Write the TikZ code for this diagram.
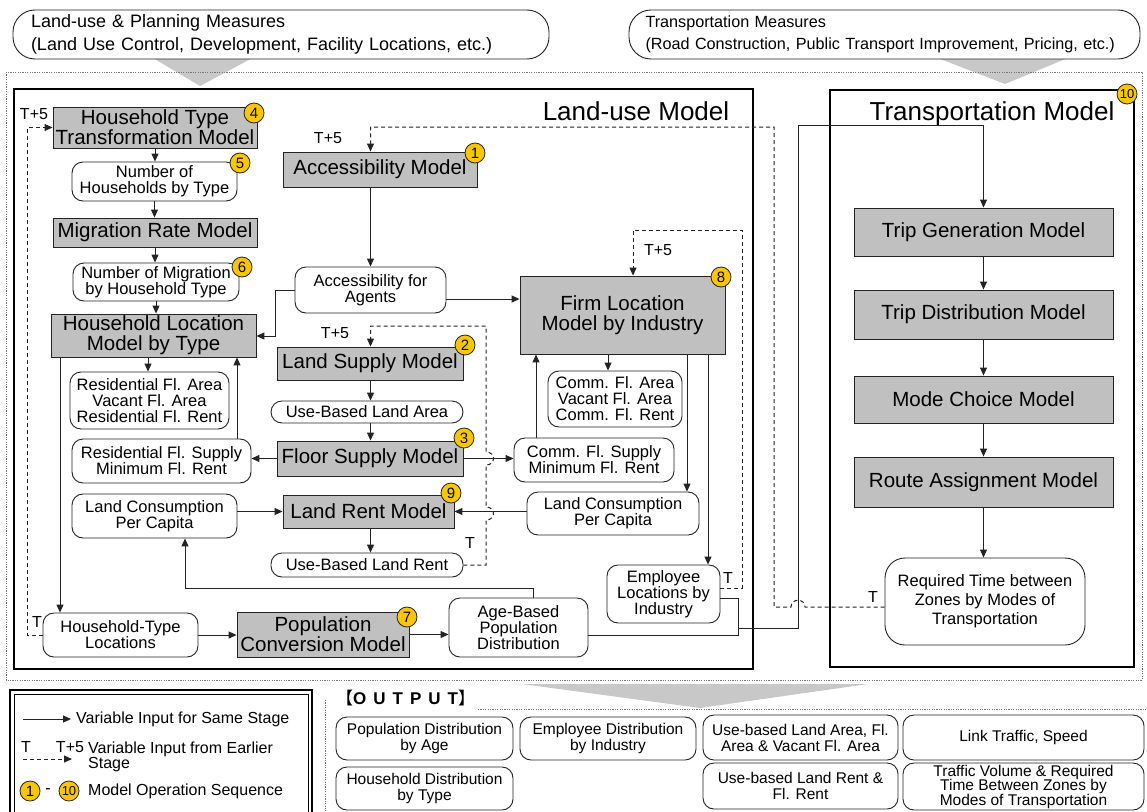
\documentclass[tikz,border=0pt]{standalone}
\usepackage{fontspec}
\setmainfont{Liberation Sans}
\newfontfamily\cjkfont{Noto Sans CJK SC}
\usetikzlibrary{arrows.meta}
\definecolor{boxgray}{RGB}{192,192,192}
\definecolor{wedgegray}{RGB}{200,200,200}
\definecolor{badgey}{RGB}{250,198,0}
\definecolor{linec}{RGB}{35,35,35}
\definecolor{dotc}{RGB}{120,120,120}
\newcommand\mybox[7]{%
 \pgfmathsetmacro\myCX{(#3+#5)/2}%
 \pgfmathsetmacro\myCY{(#4+#6)/2}%
 \pgfmathsetmacro\myW{#5-#3}%
 \pgfmathsetmacro\myH{#6-#4}%
 \node[#1,minimum width=\myW pt,minimum height=\myH pt] (#2) at (\myCX,\myCY) {#7};}
\tikzset{
 gbox/.style={draw=linec, line width=0.9pt, fill=boxgray, align=center, inner sep=1pt, font=\fontsize{20.5}{20}\selectfont},
 rbox/.style={draw=linec, line width=0.9pt, fill=white, rounded corners=11pt, align=center, inner sep=1pt, font=\fontsize{16.5}{16}\selectfont},
 obox/.style={rbox, font=\fontsize{15.5}{16}\selectfont},
 mbox/.style={draw=linec, line width=0.9pt, fill=white, rounded corners=22pt, align=left, inner sep=0pt},
 badge/.style={circle, draw=linec, line width=0.8pt, fill=badgey, inner sep=0pt, minimum size=20pt, font=\fontsize{15}{15}\selectfont},
 conn/.style={draw=linec, line width=1pt, -{Triangle[length=8pt,width=7pt]}},
 wire/.style={draw=linec, line width=1pt},
 dconn/.style={draw=linec, line width=1pt, dash pattern=on 4pt off 3pt, -{Triangle[length=8pt,width=7pt]}},
 lbl/.style={font=\fontsize{16}{16}\selectfont, inner sep=0pt},
 dotline/.style={draw=dotc, line width=0.8pt, dash pattern=on 1.2pt off 1.2pt},
 frame/.style={draw=black, line width=2.6pt},
}
\begin{document}
\begin{tikzpicture}[x=1pt,y=-1pt]
\useasboundingbox (0,0) rectangle (1147,811);
\fill[white] (0,0) rectangle (1147,811);
% wedges
\fill[wedgegray] (148,55) -- (258,55) -- (200,86) -- cycle;
\fill[wedgegray] (930,55) -- (1075,55) -- (1005,84) -- cycle;
\fill[wedgegray] (522,684) -- (868,684) -- (700,708) -- cycle;
% dotted frames
\draw[dotline] (6,72) rectangle (1142,680);
\draw[dotline] (325,700) -- (325,811);
\draw[dotline] (478,709) -- (1147,709);
% measures
\mybox{mbox,text width=500pt,font=\fontsize{18}{23}\selectfont}{lum}{13}{10}{549}{59}{Land-use \& Planning Measures\\(Land Use Control, Development, Facility Locations, etc.)}
\mybox{mbox,text width=478pt,font=\fontsize{16.2}{22}\selectfont}{trm}{629}{10}{1140}{59}{Transportation Measures\\(Road Construction, Public Transport Improvement, Pricing, etc.)}
% containers
\draw[frame] (14,89) rectangle (753,669);
\draw[frame] (830,90) rectangle (1134,667);
\node[font=\fontsize{26}{26}\selectfont, inner sep=0pt] (lutitle) at (636,111) {Land-use Model};
\node[font=\fontsize{26}{26}\selectfont, inner sep=0pt] (trtitle) at (992,114) {Transportation Model};
% land-use left column
\mybox{gbox}{htt}{53}{107}{257}{148}{Household Type\\Transformation Model}
\mybox{rbox}{nhh}{72}{162}{237}{201}{Number of\\Households by Type}
\mybox{gbox}{mrm}{53}{218}{257}{247}{Migration Rate Model}
\mybox{rbox}{nmig}{73}{263}{239}{301}{Number of Migration\\by Household Type}
\mybox{gbox}{hlm}{51}{314}{256}{357}{Household Location\\Model by Type}
\mybox{rbox}{rfa}{70}{372}{229}{429}{Residential Fl. Area\\Vacant Fl. Area\\Residential Fl. Rent}
\mybox{rbox}{rfs}{72}{439}{251}{483}{Residential Fl. Supply\\Minimum Fl. Rent}
\mybox{rbox}{lcl}{72}{494}{237}{538}{Land Consumption\\Per Capita}
\mybox{rbox}{htl}{43}{613}{198}{657}{Household-Type\\Locations}
% middle
\mybox{gbox}{acc}{283}{152}{477}{187}{Accessibility Model}
\mybox{rbox}{afa}{295}{267}{446}{313}{Accessibility for\\Agents}
\mybox{gbox}{lsm}{277}{347}{463}{380}{Land Supply Model}
\mybox{rbox}{ubla}{271}{401}{463}{423}{Use-Based Land Area}
\mybox{gbox}{fsm}{277}{441}{463}{476}{Floor Supply Model}
\mybox{gbox}{lrm}{283}{495}{454}{528}{Land Rent Model}
\mybox{rbox}{ublr}{271}{553}{463}{577}{Use-Based Land Rent}
\mybox{gbox}{pcm}{237}{612}{409}{657}{Population\\Conversion Model}
\mybox{rbox}{age}{449}{598}{588}{657}{Age-Based\\Population\\Distribution}
% right
\mybox{gbox}{flm}{520}{276}{725}{354}{Firm Location\\Model by Industry}
\mybox{rbox}{cfa}{548}{371}{682}{427}{Comm. Fl. Area\\Vacant Fl. Area\\Comm. Fl. Rent}
\mybox{rbox}{cfs}{514}{438}{674}{482}{Comm. Fl. Supply\\Minimum Fl. Rent}
\mybox{rbox}{lcr}{527}{492}{699}{535}{Land Consumption\\Per Capita}
\mybox{rbox}{emp}{607}{565}{720}{623}{Employee\\Locations by\\Industry}
% transportation
\mybox{gbox}{tg}{854}{208}{1113}{256}{Trip Generation Model}
\mybox{gbox}{td}{854}{290}{1113}{339}{Trip Distribution Model}
\mybox{gbox}{mc}{854}{376}{1113}{423}{Mode Choice Model}
\mybox{gbox}{ra}{854}{457}{1113}{507}{Route Assignment Model}
\mybox{rbox,rounded corners=20pt,font=\fontsize{16.5}{19}\selectfont}{rt}{885}{558}{1085}{645}{Required Time between\\Zones by Modes of\\Transportation}
% helper coordinates
\coordinate (xa) at (148,0);
\coordinate (xb) at (237,0);
\coordinate (xc) at (60,0);
\coordinate (xd) at (370.5,0);
\coordinate (xe) at (608,0);
\coordinate (xf) at (536,0);
\coordinate (xg) at (687,0);
\coordinate (xh) at (708,0);
\coordinate (xt) at (983.5,0);
% left column connectors
\draw[conn] (htt.south) -- (htt.south |- nhh.north);
\draw[conn] (nhh.south) -- (nhh.south |- mrm.north);
\draw[conn] (mrm.south) -- (mrm.south |- nmig.north);
\draw[conn] (nmig.south) -- (nmig.south |- hlm.north);
\draw[conn] (xa |- hlm.south) -- (xa |- rfa.north);
\coordinate (k1) at (275,336);
\draw[conn] (afa.west) -- (afa.west -| k1) -- (k1) -- (k1 -| hlm.east);
\draw[conn] (xb |- rfs.north) -- (xb |- hlm.south);
\draw[conn] (xc |- hlm.south) -- (xc |- htl.north);
\coordinate (k4) at (27,400);
\draw[dconn] (htl.west) -| (k4) |- (htt.west);
\node[lbl] (t5a) at (34,114) {T+5};
\node[lbl] (ta) at (37,622) {T};
% middle connectors
\draw[conn] (xd |- acc.south) -- (xd |- afa.north);
\coordinate (k6) at (800,607);
\coordinate (k7) at (370.5,127);
\draw[dconn] (k6 -| rt.west) -- (805,607) .. controls (805,598) and (791,598) .. (791,607) -- (774,607) -- (774,127) -- (k7) -- (k7 |- acc.north);
\node[lbl] (t5b) at (328,138) {T+5};
\node[lbl] (tb) at (873,597) {T};
\coordinate (k8) at (0,299);
\draw[conn] (afa.east |- k8) -- (flm.west |- k8);
\draw[conn] (xd |- lsm.south) -- (xd |- ubla.north);
\draw[conn] (xd |- ubla.south) -- (xd |- fsm.north);
\draw[conn] (fsm.west) -- (fsm.west -| rfs.east);
\draw[conn] (fsm.east) -- (fsm.east -| cfs.west);
\draw[conn] (lrm.west -| lcl.east) -- (lrm.west);
\draw[conn] (lcr.west |- lrm.east) -- (lrm.east);
\draw[conn] (xd |- lrm.south) -- (xd |- ublr.north);
\coordinate (k9) at (370.5,326);
\draw[dconn] (ublr.east) -- (486,565) -- (486,520) .. controls (496,520) and (496,507) .. (486,507) -- (486,465) .. controls (496,465) and (496,452) .. (486,452) -- (486,326) -- (k9) -- (k9 |- lsm.north);
\node[lbl] (t5c) at (335,333) {T+5};
\node[lbl] (tc) at (470,543) {T};
\draw[conn] (htl.east) -- (htl.east -| pcm.west);
\draw[conn] (pcm.east) -- (pcm.east -| age.west);
\coordinate (k16) at (533,588);
\coordinate (k17) at (185,588);
\draw[conn] (k16 |- age.north) -- (k16) -- (k17) -- (k17 |- lcl.south);
% right connectors
\draw[conn] (xe |- flm.south) -- (xe |- cfa.north);
\draw[conn] (xf |- cfs.north) -- (xf |- flm.south);
\draw[conn] (xg |- flm.south) -- (xg |- lcr.north);
\draw[conn] (xh |- flm.south) -- (xh |- emp.north);
\coordinate (k20) at (742,588);
\coordinate (k21) at (633,230);
\draw[dconn] (emp.east |- k20) -- (k20) -- (742,230) -- (k21) -- (k21 |- flm.north);
\node[lbl] (t5d) at (658,250) {T+5};
\node[lbl] (td5) at (728,578) {T};
\coordinate (k18) at (738,598);
\coordinate (k19) at (738,635);
\draw[wire] (emp.east |- k18) -- (k18) -- (k19) -- (k19 -| age.east);
\coordinate (j1) at (738,628);
\coordinate (j2) at (798,125);
\draw[conn] (j1) -| (j2) -| (tg.north);
% transportation connectors
\draw[conn] (xt |- tg.south) -- (xt |- td.north);
\draw[conn] (xt |- td.south) -- (xt |- mc.north);
\draw[conn] (xt |- mc.south) -- (xt |- ra.north);
\draw[conn] (xt |- ra.south) -- (xt |- rt.north);
% badges
\node[badge] (b4) at (254,113) {4};
\node[badge] (b5) at (240,163) {5};
\node[badge] (b6) at (242,267) {6};
\node[badge] (b1) at (475,153) {1};
\node[badge] (b2) at (465,345) {2};
\node[badge] (b3) at (464,438) {3};
\node[badge] (b9) at (451,493) {9};
\node[badge] (b7) at (407,617) {7};
\node[badge] (b8) at (721,277) {8};
\node[badge,font=\fontsize{13}{13}\selectfont] (b10) at (1127,94) {10};
% legend
\draw[line width=1.5pt] (10,690) rectangle (312,816);
\draw[line width=0.8pt] (14,694) rectangle (308,816);
\coordinate (la1) at (23,719);
\coordinate (la2) at (71,719);
\draw[conn] (la1) -- (la2);
\node[lbl,anchor=west] (lt1) at (76,719) {Variable Input for Same Stage};
\coordinate (lb1) at (23,759);
\coordinate (lb2) at (72,759);
\draw[dconn] (lb1) -- (lb2);
\node[lbl] (ltt) at (26,747) {T};
\node[lbl] (ltt5) at (70,747) {T+5};
\node[lbl,anchor=west,align=left,font=\fontsize{16}{13}\selectfont] (lt2) at (88,757) {Variable Input from Earlier\\Stage};
\node[badge] (lb1c) at (30,791) {1};
\node[lbl] (ldash) at (48,791) {-};
\node[badge,font=\fontsize{13}{13}\selectfont] (lb10c) at (69,791) {10};
\node[lbl,anchor=west] (lt3) at (88,791) {Model Operation Sequence};
% output
\node[anchor=west,inner sep=0pt,font=\fontsize{17}{17}\selectfont] (outlbl) at (336,698) {{\cjkfont 【}\textbf{O\hspace{7pt}U\hspace{7pt}T\hspace{7pt}P\hspace{7pt}U\hspace{7pt}T}{\cjkfont 】}};
\mybox{obox}{o1}{336}{717}{513}{760}{Population Distribution\\by Age}
\mybox{obox}{o2}{520}{717}{696}{760}{Employee Distribution\\by Industry}
\mybox{obox}{o3}{336}{767}{513}{810}{Household Distribution\\by Type}
\mybox{obox}{o4}{703}{715}{898}{760}{Use-based Land Area, Fl.\\Area \& Vacant Fl. Area}
\mybox{obox}{o5}{903}{715}{1144}{760}{Link Traffic, Speed}
\mybox{obox}{o6}{703}{763}{898}{809}{Use-based Land Rent \&\\Fl. Rent}
\mybox{obox,font=\fontsize{15.5}{14.5}\selectfont}{o7}{903}{763}{1144}{810}{Traffic Volume \& Required\\Time Between Zones by\\Modes of Transportation}
\end{tikzpicture}
\end{document}
